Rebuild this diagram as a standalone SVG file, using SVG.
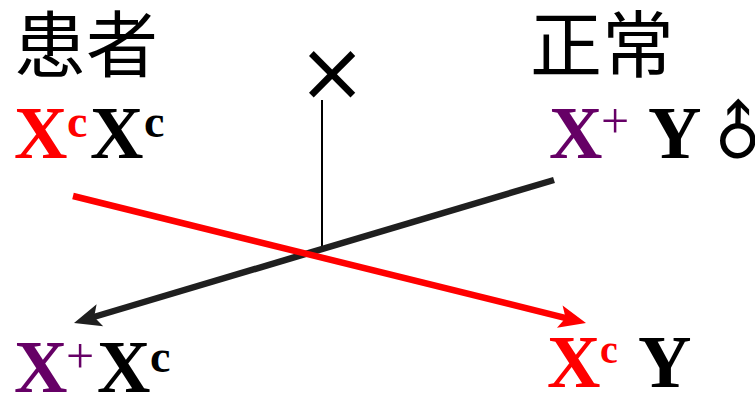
<svg xmlns="http://www.w3.org/2000/svg" width="755" height="395" viewBox="0 0 755 395">
<style>
.cjk{font-family:"Noto Sans CJK SC","Noto Sans CJK JP",sans-serif;font-size:72px;fill:#000}
.g{font-family:"Liberation Serif","Times New Roman",serif;font-weight:bold;font-size:74px}
.sup{font-family:"Liberation Serif","Times New Roman",serif;font-weight:bold;font-size:46px}
.plus{font-family:"Liberation Serif","Times New Roman",serif;font-weight:normal;font-size:50px}
.red{fill:#ff0000}.blk{fill:#000}.pur{fill:#660066}
.lb{stroke:#1f1f1f;stroke-width:6.5;fill:none}
.lr{stroke:#ff0000;stroke-width:6.5;fill:none}
</style>
<g id="connectors">
<line x1="322" y1="100" x2="322" y2="246" stroke="#000" stroke-width="2"/>
<path class="lb" d="M554,180 L92,317.5"/>
<polygon points="74,323 103.2,326.3 94.1,317 96.6,304.3" fill="#1f1f1f"/>
<path class="lr" d="M73,196 L567,318.3"/>
<polygon points="586,323 562.6,305.4 565.6,318 557,327.7" fill="#ff0000"/>
</g>
<g id="cross">
<text x="332" y="100" text-anchor="middle" style="font-family:'DejaVu Sans',sans-serif;font-size:82px">×</text>
</g>
<g id="patient">
<text class="cjk" x="14" y="71">患者</text>
<text x="14" y="158" class="g red">X</text>
<text x="67" y="137" class="sup red">c</text>
<text x="90" y="158" class="g blk">X</text>
<text x="144" y="137" class="sup blk">c</text>
</g>
<g id="normal">
<text class="cjk" x="530" y="71">正常</text>
<text x="549" y="158" class="g pur">X</text>
<text x="601" y="138" class="plus pur">+</text>
<text x="648" y="158" class="g blk">Y</text>
<g transform="translate(738,133) rotate(-45)">
<text x="0" y="0" text-anchor="middle" dominant-baseline="central" style="font-family:'DejaVu Sans',sans-serif;font-size:64px">♂</text>
</g>
</g>
<g id="daughter">
<text x="14" y="392" class="g pur">X</text>
<text x="66" y="373" class="plus pur">+</text>
<text x="97" y="392" class="g blk">X</text>
<text x="150" y="372" class="sup blk">c</text>
</g>
<g id="son">
<text x="547" y="387" class="g red">X</text>
<text x="600" y="363" class="sup red" style="font-size:40px">c</text>
<text x="638" y="387" class="g blk">Y</text>
</g>
</svg>
